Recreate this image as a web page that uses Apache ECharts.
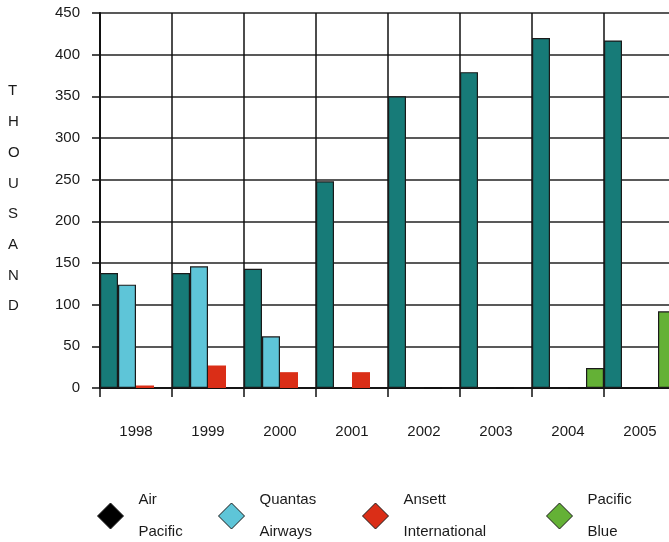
<!DOCTYPE html>
<html>
<head>
<meta charset="utf-8">
<script src="https://cdn.jsdelivr.net/npm/echarts@6/dist/echarts.min.js"></script>
<style>
  html, body { margin: 0; padding: 0; background: #fff; overflow: hidden; }
  /* canvas is a little wider than the window; the last column runs off the edge */
  #chart { width: 676px; height: 542px; }
</style>
</head>
<body>
<div id="chart"></div>
<script>
// Passenger numbers (thousands) by airline and year
const years = ['1998', '1999', '2000', '2001', '2002', '2003', '2004', '2005'];
const airPacific = [138, 138, 143, 248, 350, 379, 420, 417];
const quantasAirways = [124, 146, 62, 0, 0, 0, 0, 0];
const ansettInternational = [3, 27, 19, 19, 0, 0, 0, 0];
const pacificBlue = [0, 0, 0, 0, 0, 0, 24, 92];
const yTicks = { min: 0, max: 450, step: 50 };
const axisTitle = 'THOUSAND';

const FONT = 'Liberation Sans, Arial, sans-serif';
const FS = 15;
const TEXT = '#1a1a1a';

const seriesDefs = [
  { name: 'Air Pacific', label: 'Air\nPacific', data: airPacific, color: '#177b78', border: '#1a1a1a', bw: 1.2, legendColor: '#000000' },
  { name: 'Quantas Airways', label: 'Quantas\nAirways', data: quantasAirways, color: '#5ec5d8', border: '#1a1a1a', bw: 1.2 },
  { name: 'Ansett International', label: 'Ansett\nInternational', data: ansettInternational, color: '#da2e17', border: '#da2e17', bw: 0 },
  { name: 'Pacific Blue', label: 'Pacific\nBlue', data: pacificBlue, color: '#64b136', border: '#1a1a1a', bw: 1.2 }
];

// One legend block per airline, laid out in the bottom row
const legendLeft = [92, 213, 357, 541];
const legends = seriesDefs.map((s, i) => ({
  left: legendLeft[i],
  top: 479,
  orient: 'horizontal',
  icon: 'diamond',
  itemWidth: 26,
  itemHeight: 26,
  selectedMode: false,
  data: [{
    name: s.name,
    itemStyle: { color: s.legendColor || s.color, borderColor: '#1a1a1a', borderWidth: 1 }
  }],
  formatter: () => s.label,
  textStyle: { fontFamily: FONT, fontSize: FS, color: TEXT, lineHeight: 32, padding: [0, 0, 0, 10] }
}));

const chart = echarts.init(document.getElementById('chart'), null, { renderer: 'canvas' });

chart.setOption({
  animation: false,
  backgroundColor: '#ffffff',
  textStyle: { fontFamily: FONT },
  grid: { left: 100, right: 0, top: 13, height: 375, containLabel: false },
  legend: legends,
  graphic: [{
    type: 'text',
    left: 8,
    top: 76,
    style: {
      text: axisTitle.split('').join('\n'),
      font: FS + 'px ' + FONT,
      fill: TEXT,
      lineHeight: 30.7,
      align: 'center'
    }
  }],
  xAxis: {
    type: 'category',
    data: years,
    boundaryGap: true,
    axisLine: { show: true, lineStyle: { color: '#111', width: 2 } },
    axisTick: { show: true, alignWithLabel: false, length: 9, lineStyle: { color: '#111', width: 1.5 } },
    axisLabel: { fontFamily: FONT, fontSize: FS, color: TEXT, margin: 36 },
    splitLine: { show: true, interval: 0, lineStyle: { color: '#111', width: 1.5 } }
  },
  yAxis: {
    type: 'value',
    min: yTicks.min,
    max: yTicks.max,
    interval: yTicks.step,
    axisLine: { show: true, lineStyle: { color: '#111', width: 2 } },
    axisTick: { show: true, length: 8, lineStyle: { color: '#111', width: 1.5 } },
    axisLabel: { fontFamily: FONT, fontSize: FS, color: TEXT, margin: 20 },
    splitLine: { show: true, lineStyle: { color: '#222', width: 1.5 } }
  },
  series: seriesDefs.map(s => ({
    name: s.name,
    type: 'bar',
    data: s.data,
    barGap: '0%',
    barCategoryGap: '0%',
    itemStyle: { color: s.color, borderColor: s.border, borderWidth: s.bw },
    emphasis: { disabled: true }
  }))
});
</script>
</body>
</html>
